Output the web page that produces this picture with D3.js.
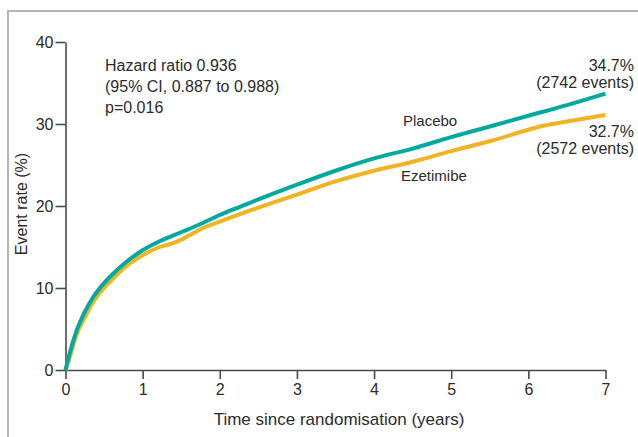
<!DOCTYPE html>
<html><head><meta charset="utf-8">
<script src="https://cdn.jsdelivr.net/npm/d3@7"></script>
<style>
html,body{margin:0;padding:0;background:#fff;}
svg{display:block;font-family:"Liberation Sans",Arial,sans-serif;}
</style></head>
<body>
<svg id="chart" width="638" height="437"></svg>
<script>
const years = [0,0.05,0.14,0.25,0.36,0.5,0.58,0.79,1.0,1.22,1.5,1.75,2.0,2.26,2.5,3.0,3.5,4.0,4.5,5.0,5.5,6.0,6.5,7.0];
const placebo = [0,1.9,4.7,7.1,8.9,10.6,11.4,13.2,14.6,15.7,16.8,17.8,18.9,19.9,20.8,22.6,24.3,25.8,27.0,28.4,29.7,31.0,32.3,33.7];
const ezeYears = [0,0.05,0.14,0.25,0.36,0.5,0.58,0.79,1.0,1.22,1.4,1.5,1.6,1.8,2.0,2.5,3.0,3.5,4.0,4.5,5.0,5.5,6.0,6.15,6.5,7.0];
const ezetimibe = [0,1.4,4.2,6.4,8.3,10.0,10.8,12.7,14.0,15.0,15.5,15.9,16.4,17.4,18.1,19.8,21.4,23.0,24.3,25.4,26.7,27.9,29.3,29.7,30.3,31.1];
const xTicks = [0,1,2,3,4,5,6,7];
const yTicks = [0,10,20,30,40];
const statsText = ["Hazard ratio 0.936","(95% CI, 0.887 to 0.988)","p=0.016"];
const placeboEnd = ["34.7%","(2742 events)"];
const ezeEnd = ["32.7%","(2572 events)"];
const xTitle = "Time since randomisation (years)";
const yTitle = "Event rate (%)";

const svg = d3.select("#chart");
const textCol = "#2b2b2b", axisCol = "#4a4a4a";
const teal = "#00a99d", gold = "#f0b323";

// frame
svg.append("path").attr("d","M8,437 L8,11 L638,11").attr("fill","none")
  .attr("stroke","#b5b5b5").attr("stroke-width",2);

const x = d3.scaleLinear().domain([0,7]).range([65.5,605.5]);
const y = d3.scaleLinear().domain([0,40]).range([370,42]);

const xAxis = svg.append("g").attr("transform","translate(0,370)")
  .call(d3.axisBottom(x).tickValues(xTicks).tickSize(9).tickSizeOuter(0).tickPadding(5).tickFormat(d3.format("d")));
const yAxis = svg.append("g").attr("transform","translate(65.5,0)")
  .call(d3.axisLeft(y).tickValues(yTicks).tickSize(10).tickSizeOuter(0).tickPadding(2).tickFormat(d3.format("d")));
[xAxis,yAxis].forEach(g=>{
  g.selectAll("path,line").attr("stroke",axisCol).attr("stroke-width",1.6);
  g.selectAll("text").attr("fill",textCol).style("font-size","16px").style("font-family","'Liberation Sans',Arial,sans-serif");
});

const line = d3.line().x(d=>x(d[0])).y(d=>y(d[1])).curve(d3.curveMonotoneX);
svg.append("path").datum(ezeYears.map((t,i)=>[t,ezetimibe[i]])).attr("d",line)
  .attr("fill","none").attr("stroke",gold).attr("stroke-width",4).attr("stroke-linecap","butt");
svg.append("path").datum(years.map((t,i)=>[t,placebo[i]])).attr("d",line)
  .attr("fill","none").attr("stroke",teal).attr("stroke-width",4).attr("stroke-linecap","butt");

const fs = "16px";
statsText.forEach((s,i)=>{
  svg.append("text").attr("x",105).attr("y",71+i*21).text(s).attr("fill",textCol).style("font-size",fs);
});
placeboEnd.forEach((s,i)=>{
  svg.append("text").attr("x",634).attr("y",71+i*17).attr("text-anchor","end").text(s).attr("fill",textCol).style("font-size",fs);
});
ezeEnd.forEach((s,i)=>{
  svg.append("text").attr("x",634).attr("y",137+i*17).attr("text-anchor","end").text(s).attr("fill",textCol).style("font-size",fs);
});
svg.append("text").attr("x",403).attr("y",126).text("Placebo").attr("fill",textCol).style("font-size","15px");
svg.append("text").attr("x",401).attr("y",181).text("Ezetimibe").attr("fill",textCol).style("font-size","15px");

svg.append("text").attr("x",339).attr("y",425).attr("text-anchor","middle").text(xTitle).attr("fill",textCol).style("font-size","17px");
svg.append("text").attr("transform","translate(27,204) rotate(-90)").attr("text-anchor","middle").text(yTitle).attr("fill",textCol).style("font-size","16px");
</script>
</body></html>
